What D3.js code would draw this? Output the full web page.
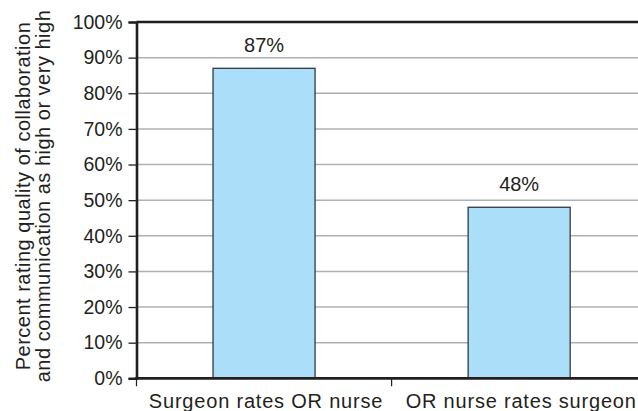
<!DOCTYPE html>
<html>
<head>
<meta charset="utf-8">
<script src="https://cdn.jsdelivr.net/npm/d3@7"></script>
<style>
  body { margin: 0; background: #fff; }
  text { font-family: "Liberation Sans", Arial, sans-serif; fill: #231f20; }
</style>
</head>
<body>
<div id="chart"></div>
<script>
// chart values
var categories = ["Surgeon rates OR nurse", "OR nurse rates surgeon"];
var values = [87, 48];
var yTicks = [0, 10, 20, 30, 40, 50, 60, 70, 80, 90, 100];
var yTitle = ["Percent rating quality of collaboration", "and communication as high or very high"];

var width = 638, height = 411;
var margin = {top: 22, left: 136.5, bottom: 378.3, right: 646.7};

var svg = d3.select("#chart").append("svg")
    .attr("width", width)
    .attr("height", height);

var x = d3.scaleBand()
    .domain(categories)
    .range([margin.left, margin.right])
    .paddingInner(0.6)
    .paddingOuter(0.3);

var y = d3.scaleLinear()
    .domain([0, 100])
    .range([margin.bottom, margin.top]);

// gridlines
svg.append("g")
    .selectAll("line")
    .data(yTicks.filter(function(d) { return d > 0 && d < 100; }))
    .enter().append("line")
    .attr("x1", margin.left)
    .attr("x2", margin.right)
    .attr("y1", function(d) { return y(d); })
    .attr("y2", function(d) { return y(d); })
    .attr("stroke", "#aeb0b2")
    .attr("stroke-width", 1.5);

// top border
svg.append("line")
    .attr("x1", margin.left)
    .attr("x2", margin.right)
    .attr("y1", y(100))
    .attr("y2", y(100))
    .attr("stroke", "#231f20")
    .attr("stroke-width", 2.6);

// bars
svg.append("g")
    .selectAll("rect")
    .data(values)
    .enter().append("rect")
    .attr("x", function(d, i) { return x(categories[i]); })
    .attr("width", x.bandwidth())
    .attr("y", function(d) { return y(d); })
    .attr("height", function(d) { return y(0) - y(d); })
    .attr("fill", "#abdff9")
    .attr("stroke", "#2e3a44")
    .attr("stroke-width", 1.3);

// value labels
svg.append("g")
    .selectAll("text")
    .data(values)
    .enter().append("text")
    .attr("x", function(d, i) { return x(categories[i]) + x.bandwidth() / 2; })
    .attr("y", function(d) { return y(d) - 16; })
    .attr("text-anchor", "middle")
    .style("font-size", "20px")
    .text(function(d) { return d + "%"; });

// y axis
var yAxis = d3.axisLeft(y)
    .tickValues(yTicks)
    .tickSize(8)
    .tickPadding(6)
    .tickFormat(function(d) { return d + "%"; });

var gy = svg.append("g")
    .attr("transform", "translate(" + margin.left + ",0)")
    .call(yAxis);
gy.select(".domain").attr("stroke", "#231f20").attr("stroke-width", 2.6);
gy.selectAll(".tick line").attr("stroke", "#231f20").attr("stroke-width", 1.3);
gy.selectAll(".tick text")
    .style("font-size", "19.5px")
    .style("font-family", "'Liberation Sans', Arial, sans-serif")
    .attr("fill", "#231f20");

// x axis
var gx = svg.append("g")
    .attr("transform", "translate(0," + margin.bottom + ")");
gx.append("line")
    .attr("x1", margin.left - 1.3)
    .attr("x2", margin.right)
    .attr("stroke", "#231f20")
    .attr("stroke-width", 2.8);
var bounds = [margin.left, margin.left + x.step()];
gx.selectAll(".xtick")
    .data(bounds)
    .enter().append("line")
    .attr("class", "xtick")
    .attr("x1", function(d) { return d; })
    .attr("x2", function(d) { return d; })
    .attr("y1", 0)
    .attr("y2", 8)
    .attr("stroke", "#231f20")
    .attr("stroke-width", 1.2);
gx.selectAll(".xlabel")
    .data(categories)
    .enter().append("text")
    .attr("class", "xlabel")
    .attr("x", function(d) { return x(d) + x.bandwidth() / 2 + 2; })
    .attr("y", 30)
    .attr("text-anchor", "middle")
    .style("font-size", "20px")
    .style("letter-spacing", "0.8px")
    .text(function(d) { return d; });

// y title
var title = svg.append("text")
    .attr("transform", "translate(30,196) rotate(-90)")
    .attr("text-anchor", "middle")
    .style("font-size", "20px")
    .style("letter-spacing", "0.5px");
title.selectAll("tspan")
    .data(yTitle)
    .enter().append("tspan")
    .attr("x", 0)
    .attr("dy", function(d, i) { return i === 0 ? 0 : 19.5; })
    .text(function(d) { return d; });
</script>
</body>
</html>
